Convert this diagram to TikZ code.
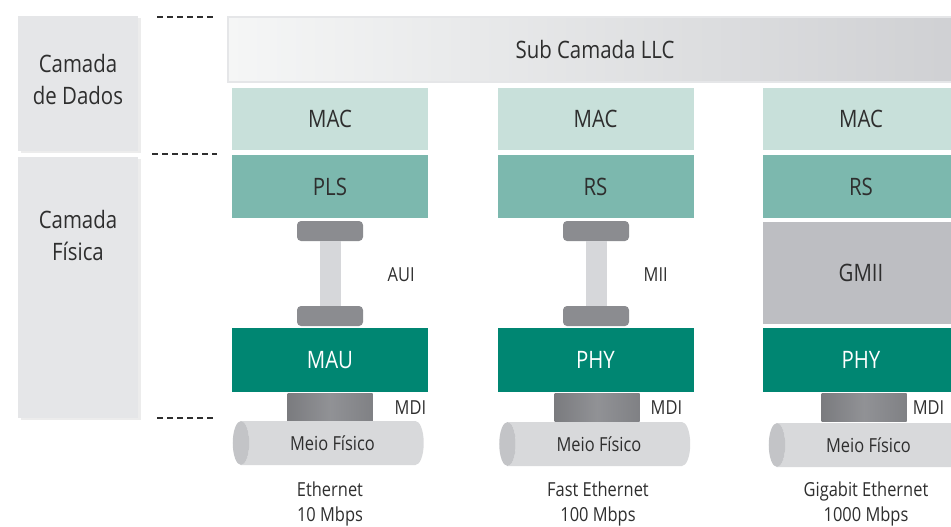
\documentclass[tikz,border=0pt]{standalone}
\usepackage{fontspec}
\setmainfont{Open Sans}[FakeStretch=0.85]
\usetikzlibrary{shapes.geometric,shadows}
\definecolor{panelgray}{HTML}{E5E6E8}
\definecolor{macgreen}{HTML}{C8E0DA}
\definecolor{rsgreen}{HTML}{7CB8AE}
\definecolor{phygreen}{HTML}{008672}
\definecolor{gmiigray}{HTML}{BDBEC2}
\definecolor{capgray}{HTML}{8B8C90}
\definecolor{stemgray}{HTML}{D6D7DA}
\definecolor{textgray}{HTML}{2E2E2E}
\definecolor{tubegray}{HTML}{D8D9DB}
\definecolor{tubeend}{HTML}{C3C4C7}
\definecolor{llcleft}{HTML}{F5F6F6}
\definecolor{llcright}{HTML}{CFD0D3}

\begin{document}
\begin{tikzpicture}[x=0.75pt,y=-0.75pt]
\tikzstyle{big}=[font=\fontsize{18}{24}\selectfont,text=textgray]
\tikzstyle{small}=[font=\fontsize{14.5}{19}\selectfont,text=textgray]
\tikzstyle{layer}=[rectangle,inner sep=0,minimum width=147pt,big]
\tikzstyle{mac}=[layer,fill=macgreen,minimum height=46.5pt]
\tikzstyle{rs}=[layer,fill=rsgreen,minimum height=47.25pt]
\tikzstyle{phy}=[layer,fill=phygreen,minimum height=48pt,text=white]
\tikzstyle{plug}=[rectangle,fill=capgray,rounded corners=3pt,minimum width=49.5pt,minimum height=15pt,inner sep=0]
\tikzstyle{stem}=[draw=stemgray,line width=15.75pt]
\tikzstyle{mdi}=[rectangle,inner sep=0,minimum width=63.75pt,minimum height=21pt,left color=capgray!88!black,right color=capgray!92!black,middle color=capgray!95!white]
\tikzstyle{tube}=[cylinder,shape border rotate=180,aspect=1.1,cylinder uses custom fill,cylinder body fill=tubegray,cylinder end fill=tubeend,minimum width=33pt,minimum height=143.25pt,inner sep=0,small]
\tikzstyle{side}=[rectangle,fill=panelgray,minimum width=90pt,inner sep=0,drop shadow={shadow xshift=2.5pt,shadow yshift=-1.5pt,opacity=0.15}]
\tikzstyle{rule}=[draw=textgray,line width=2.2pt,dash pattern=on 4.5pt off 3pt]
\useasboundingbox (0,0) rectangle (951,526);
% left side: the two layers
\node[side,minimum height=101.25pt] (dados) at (78,83.5) {};
\node[side,minimum height=195.75pt] (fisica) at (78,287.5) {};
\node[big,align=center] (dadostxt) at (78,79) {Camada\\de Dados};
\node[big,align=center] (fisicatxt) at (78,235.5) {Camada\\Física};
\coordinate (r1a) at (157,17);
\coordinate (r1b) at (216,17);
\coordinate (r2a) at (152,154);
\coordinate (r2b) at (217,154);
\coordinate (r3a) at (157,418);
\coordinate (r3b) at (216,418);
\draw[rule] (r1a) -- (r1b);
\draw[rule] (r2a) -- (r2b);
\draw[rule] (r3a) -- (r3b);
% LLC bar
\node[rectangle,inner sep=0,minimum width=550.5pt,minimum height=48.75pt,left color=llcleft,right color=llcright,draw=panelgray,line width=1.5pt,big] (llc) at (595,49.5) {Sub Camada LLC};
% Ethernet
\node[mac] (mac1) at (330,119) {MAC};
\node[rs] (pls1) at (330,186.5) {PLS};
\node[plug] (aui1a) at (330,231) {};
\node[plug] (aui1b) at (330,316) {};
\draw[stem] (aui1a.south) -- (aui1b.north);
\node[small,anchor=west] (aui1) at (383,275) {AUI};
\node[phy] (mau1) at (330,360) {MAU};
\node[mdi] (mdi1) at (330,407) {};
\node[small,anchor=west] (mdi1txt) at (390,408) {MDI};
\node[tube] (meio1) at (332.5,443) {Meio Físico};
\node[small,align=center] (eth1) at (330,504) {Ethernet\\10 Mbps};
% Fast Ethernet
\node[mac] (mac2) at (595.5,119) {MAC};
\node[rs] (rs2) at (595.5,186.5) {RS};
\node[plug] (mii2a) at (596,231) {};
\node[plug] (mii2b) at (596,316) {};
\draw[stem] (mii2a.south) -- (mii2b.north);
\node[small,anchor=west] (mii2) at (639,275) {MII};
\node[phy] (phy2) at (595.5,360) {PHY};
\node[mdi] (mdi2) at (597,407) {};
\node[small,anchor=west] (mdi2txt) at (646,408) {MDI};
\node[tube] (meio2) at (599,444) {Meio Físico};
\node[small,align=center] (eth2) at (598,504) {Fast Ethernet\\100 Mbps};
% Gigabit Ethernet
\node[mac] (mac3) at (861,119) {MAC};
\node[rs] (rs3) at (861,186.5) {RS};
\node[layer,fill=gmiigray,minimum height=76.5pt] (gmii3) at (861,273) {GMII};
\node[phy] (phy3) at (861,360) {PHY};
\node[mdi] (mdi3) at (864,407) {};
\node[small,anchor=east] (mdi3txt) at (949,408) {MDI};
\node[tube] (meio3) at (868.5,445) {Meio Físico};
\node[small,align=center] (eth3) at (866,504) {Gigabit Ethernet\\1000 Mbps};
\end{tikzpicture}
\end{document}
